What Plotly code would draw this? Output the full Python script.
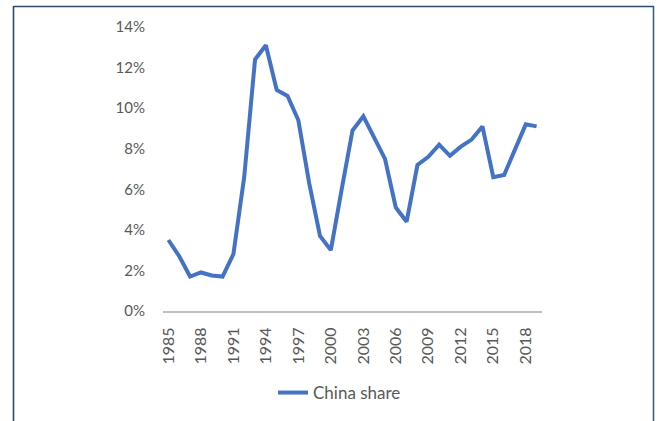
import plotly.graph_objects as go

years = list(range(1985, 2020))
china_share = [3.5, 2.7, 1.7, 1.9, 1.75, 1.7, 2.8, 6.6, 12.4, 13.1, 10.9, 10.6, 9.4,
               6.3, 3.7, 3.0, 6.0, 8.9, 9.6, 8.6, 7.5, 5.1, 4.4, 7.2, 7.6, 8.2, 7.65,
               8.1, 8.45, 9.1, 6.6, 6.7, 7.9, 9.2, 9.1]
y_ticks = [0, 2, 4, 6, 8, 10, 12, 14]
x_tick_years = list(range(1985, 2020, 3))

L, R, T, B = 163, 542, 27, 311
W, H = 657, 421
pw, ph = R - L, B - T

def px(x):
    return (x - L) / pw

def py(y):
    return (B - y) / ph

fig = go.Figure()
fig.add_trace(go.Scatter(
    x=[str(y) for y in years], y=[v / 100 for v in china_share],
    mode="lines", name="China share",
    line=dict(color="#4472C4", width=4),
))

font_main = "Lato, 'Open Sans', sans-serif"
fig.update_layout(
    width=W, height=H,
    margin=dict(l=L, r=W - R, t=T, b=H - B, autoexpand=False),
    paper_bgcolor="white", plot_bgcolor="white",
    font=dict(family=font_main, color="#595959", size=15),
    showlegend=True,
    legend=dict(orientation="h", x=px(273), xanchor="left", y=py(393), yanchor="middle",
                font=dict(size=17, color="#595959"), itemwidth=30),
    xaxis=dict(type="category", range=[-0.5, len(years) - 0.5],
               tickvals=[str(y) for y in x_tick_years], ticktext=[str(y) for y in x_tick_years],
               tickangle=-90, showgrid=False, showline=True, linecolor="#BFBFBF", linewidth=2,
               ticks="", tickfont=dict(size=16, color="#595959"), zeroline=False,
               ticklabelstandoff=8),
    yaxis=dict(range=[0, 0.14], tickvals=[v / 100 for v in y_ticks],
               ticktext=[f"{v}%" for v in y_ticks], showgrid=False, zeroline=False,
               showline=False, ticks="", tickfont=dict(size=15, color="#595959"),
               ticklabelstandoff=17),
    shapes=[
        dict(type="line", xref="paper", yref="paper", x0=px(13.5), x1=px(13.5), y0=py(6), y1=py(425),
             line=dict(color="#2E4A6B", width=1.6)),
        dict(type="line", xref="paper", yref="paper", x0=px(653.5), x1=px(653.5), y0=py(6), y1=py(425),
             line=dict(color="#41607F", width=1.6)),
        dict(type="line", xref="paper", yref="paper", x0=px(13.5), x1=px(653.5), y0=py(6.5), y1=py(6.5),
             line=dict(color="#2E4A6B", width=1.6)),
    ],
)

fig.write_html("out.html", config={"displayModeBar": False},
               post_script="document.body.style.margin='0';document.body.style.overflow='hidden';")
